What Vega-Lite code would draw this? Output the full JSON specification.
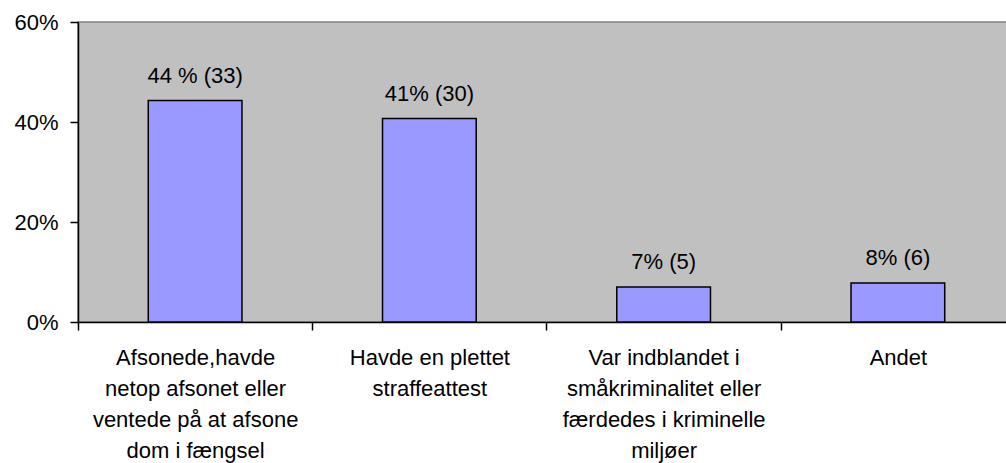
{
  "$schema": "https://vega.github.io/schema/vega-lite/v6.json",
  "width": 937,
  "height": 300,
  "autosize": {"type": "none"},
  "padding": {"left": 78, "top": 22, "right": -9, "bottom": 141},
  "background": "white",
  "config": {
    "font": "Liberation Sans",
    "view": {"fill": "#c0c0c0", "stroke": "#808080", "strokeWidth": 1.5}
  },
  "data": {
    "values": [
      {"kategori": "Afsonede,havde|netop afsonet eller|ventede på at afsone|dom i fængsel", "andel": 0.443, "tekst": "44 % (33)"},
      {"kategori": "Havde en plettet|straffeattest", "andel": 0.407, "tekst": "41% (30)"},
      {"kategori": "Var indblandet i|småkriminalitet eller|færdedes i kriminelle|miljøer", "andel": 0.07, "tekst": "7% (5)"},
      {"kategori": "Andet", "andel": 0.078, "tekst": "8% (6)"}
    ]
  },
  "layer": [
    {
      "mark": {"type": "bar", "fill": "#9999ff", "stroke": "black", "strokeWidth": 1.5},
      "encoding": {
        "x": {
          "field": "kategori",
          "type": "nominal",
          "sort": null,
          "scale": {"paddingInner": 0.6, "paddingOuter": 0.3},
          "axis": {
            "title": null,
            "labelAngle": 0,
            "labelExpr": "isValid(datum.value) ? split(datum.value, '|') : ''",
            "labelFontSize": 22,
            "labelColor": "black",
            "labelLineHeight": 31,
            "labelPadding": 17,
            "labelBaseline": "top",
            "labelLimit": 400,
            "ticks": true,
            "bandPosition": 0,
            "tickOffset": -70.3,
            "labelOffset": 70.3,
            "tickSize": 8,
            "tickColor": "black",
            "tickWidth": 1.5,
            "domainColor": "black",
            "domainWidth": 1.5,
            "grid": false
          }
        },
        "y": {
          "field": "andel",
          "type": "quantitative",
          "scale": {"domain": [0, 0.6], "nice": false},
          "axis": {
            "title": null,
            "values": [0, 0.2, 0.4, 0.6],
            "format": ".0%",
            "labelFontSize": 22,
            "labelColor": "black",
            "labelPadding": 12,
            "tickSize": 8,
            "tickColor": "black",
            "tickWidth": 1.5,
            "domainColor": "black",
            "domainWidth": 1.5,
            "grid": false
          }
        }
      }
    },
    {
      "mark": {"type": "text", "fontSize": 22, "color": "black", "baseline": "bottom", "dy": -13},
      "encoding": {
        "x": {"field": "kategori", "type": "nominal", "sort": null},
        "y": {"field": "andel", "type": "quantitative"},
        "text": {"field": "tekst"}
      }
    }
  ]
}
